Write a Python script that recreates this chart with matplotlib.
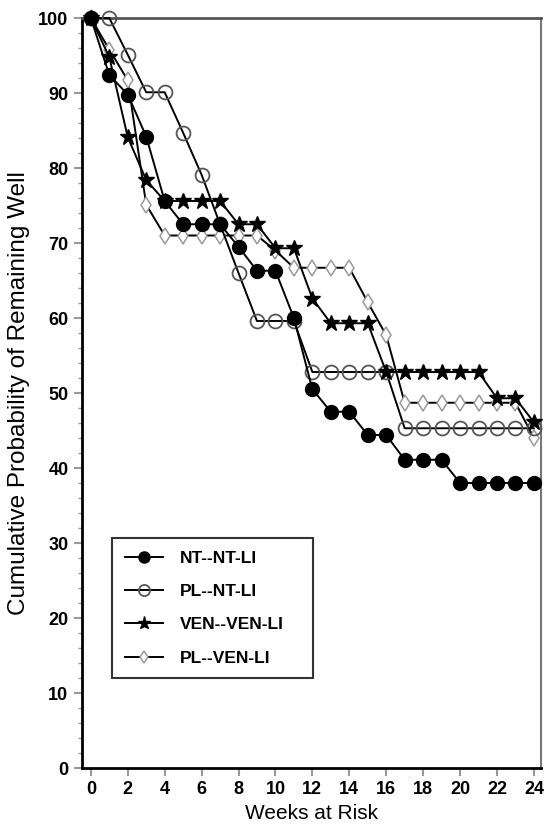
import matplotlib
matplotlib.use("Agg")
import matplotlib.pyplot as plt
from matplotlib.ticker import MultipleLocator

plt.rcParams['font.family'] = ['Liberation Sans', 'DejaVu Sans']

# weeks at risk and cumulative probability (%) per arm
weeks = list(range(0, 25))

nt_nt_li = [100, 92.4, 89.8, 84.2, 75.6, 72.5, 72.5, 72.5, 69.5, 66.3, 66.3, 60.0, 50.5,
            47.5, 47.5, 44.4, 44.4, 41.1, 41.1, 41.1, 38.0, 38.0, 38.0, 38.0, 38.0]
pl_nt_li = [100, 100, 95.1, 90.1, 90.1, 84.7, 79.1, 72.5, 66.0, 59.6, 59.6, 59.6, 52.8,
            52.8, 52.8, 52.8, 52.8, 45.3, 45.3, 45.3, 45.3, 45.3, 45.3, 45.3, 45.3]
ven_ven_li = [100, 94.8, 84.1, 78.4, 75.6, 75.6, 75.6, 75.6, 72.5, 72.5, 69.3, 69.3, 62.6,
              59.3, 59.3, 59.3, 52.8, 52.8, 52.8, 52.8, 52.8, 52.8, 49.3, 49.3, 46.1]
pl_ven_li = [100, 95.8, 91.7, 75.1, 71.0, 71.0, 71.0, 71.0, 71.0, 71.0, 69.0, 66.7, 66.7,
             66.7, 66.7, 62.1, 57.7, 48.7, 48.7, 48.7, 48.7, 48.7, 48.7, 48.7, 44.0]

labels = ['NT--NT-LI', 'PL--NT-LI', 'VEN--VEN-LI', 'PL--VEN-LI']

fig = plt.figure(figsize=(5.44, 8.26), dpi=100)
ax = fig.add_axes([0.150, 0.0702, 0.845, 0.908])

ax.plot(weeks, pl_ven_li, '-', color='black', lw=1.4, marker='d', ms=8,
        mfc='white', mec='#999999', mew=1.1, clip_on=False, label=labels[3], zorder=3)
ax.plot(weeks, pl_nt_li, '-', color='black', lw=1.4, marker='o', ms=10,
        mfc='none', mec='#555555', mew=1.3, clip_on=False, label=labels[1], zorder=4)
ax.plot(weeks, ven_ven_li, '-', color='black', lw=1.4, marker='*', ms=12,
        mfc='black', mec='black', clip_on=False, label=labels[2], zorder=5)
ax.plot(weeks, nt_nt_li, '-', color='black', lw=1.4, marker='o', ms=10,
        mfc='black', mec='black', clip_on=False, label=labels[0], zorder=6)

ax.set_xlim(-0.5, 24.4)
ax.set_ylim(0, 100)
ax.xaxis.set_major_locator(MultipleLocator(2))
ax.yaxis.set_major_locator(MultipleLocator(10))
ax.yaxis.set_minor_locator(MultipleLocator(2))

ax.tick_params(axis='both', which='major', direction='out', length=6, width=1.5,
               color='#999999', labelsize=13)
ax.tick_params(axis='y', which='minor', direction='out', length=3, width=1, color='#999999')
for lab in ax.get_xticklabels() + ax.get_yticklabels():
    lab.set_fontweight('bold')

ax.spines['left'].set_linewidth(2)
ax.spines['bottom'].set_linewidth(2)
ax.spines['top'].set_linewidth(2)
ax.spines['top'].set_color('#555555')
ax.spines['right'].set_linewidth(1.5)
ax.spines['right'].set_color('#777777')

ax.set_xlabel('Weeks at Risk', fontsize=15, labelpad=4)
ax.set_ylabel('Cumulative Probability of Remaining Well', fontsize=17.5, labelpad=6)

handles, labs = ax.get_legend_handles_labels()
order = [labs.index(l) for l in labels]
leg = ax.legend([handles[i] for i in order], labels, loc='lower left',
                bbox_to_anchor=(0.067, 0.12, 0.436, 0.188), mode='expand',
                borderaxespad=0, fancybox=False, edgecolor='#333333', framealpha=1,
                prop={'weight': 'bold', 'size': 12.5}, handlelength=2.2,
                handletextpad=1.0, labelspacing=1.05, borderpad=0.7, markerscale=0.8)
leg.get_frame().set_linewidth(1.5)

fig.savefig('out.png', dpi=100)
